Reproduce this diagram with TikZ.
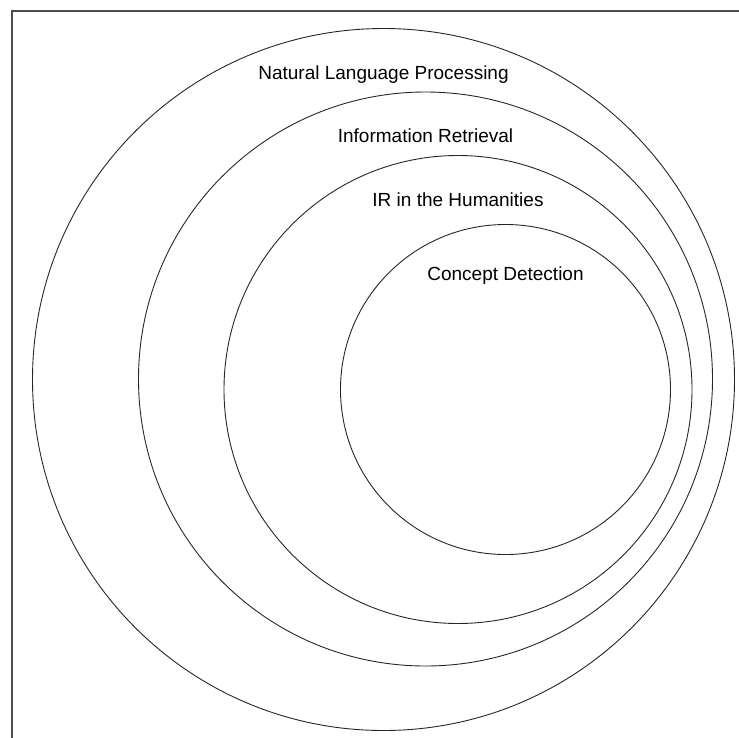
\documentclass[tikz,border=0pt]{standalone}
\usepackage{fontspec}
\setmainfont{Liberation Sans}
\begin{document}
\begin{tikzpicture}[x=1pt,y=-1pt,
  ring/.style={draw=black!85,line width=0.9pt,circle,inner sep=0pt},
  lbl/.style={anchor=base,inner sep=0pt,font=\fontsize{19}{23}\selectfont}]
\useasboundingbox (0,0) rectangle (739,737);
\begin{scope}
\clip (0,0) rectangle (739,737);
\coordinate (fb) at (12,745);
\coordinate (fc) at (12,11);
\coordinate (fr) at (745,11);
\draw[black!70,line width=1.2pt] (fb) -- (fc) -- (fr);
\node[ring,minimum size=702pt] (nlp) at (383.5,379.5) {};
\node[ring,minimum size=574pt] (ir) at (425.5,379) {};
\node[ring,minimum size=468pt] (hum) at (458,389.5) {};
\node[ring,minimum size=330pt] (cd) at (505.5,389.5) {};
\end{scope}
\node[lbl] (tnlp) at (383.5,79.3) {Natural Language Processing};
\node[lbl] (tir) at (425.5,142.3) {Information Retrieval};
\node[lbl] (thum) at (458,206.7) {IR in the Humanities};
\node[lbl] (tcd) at (505.5,280) {Concept Detection};
\end{tikzpicture}
\end{document}
